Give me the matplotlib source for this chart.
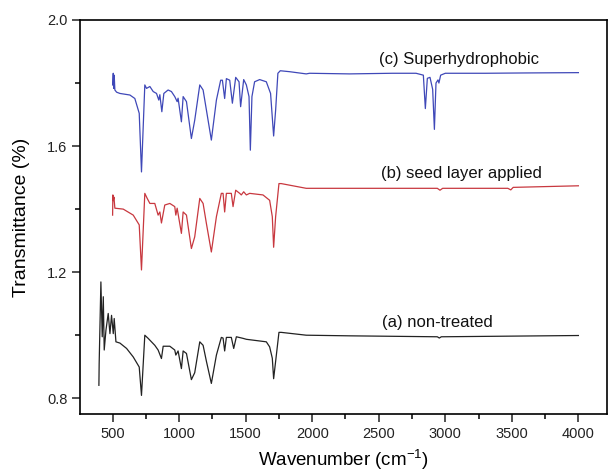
import matplotlib
matplotlib.use("Agg")
import matplotlib.pyplot as plt
from matplotlib.ticker import MultipleLocator

plt.rcParams['font.family'] = ['Liberation Sans', 'DejaVu Sans']
plt.rcParams['mathtext.default'] = 'regular'

# (c) Superhydrophobic
wn_c = [500, 505, 508, 512, 517, 530, 555, 630, 667, 700, 717, 742, 755, 780, 805, 830, 847, 855, 870, 885,
        917, 942, 967, 985, 992, 1017, 1030, 1055, 1092, 1117, 1155, 1180, 1205, 1242, 1280, 1312, 1325,
        1342, 1355, 1380, 1400, 1425, 1450, 1462, 1485, 1505, 1525, 1535, 1547, 1567, 1605, 1655, 1687,
        1710, 1725, 1742, 1760, 1830, 1955, 1980, 2280, 2600, 2780, 2835, 2850, 2865, 2885, 2905, 2918,
        2930, 2945, 2952, 2965, 3000, 3300, 3600, 4000]
t_c = [1.794, 1.831, 1.783, 1.825, 1.778, 1.771, 1.767, 1.762, 1.751, 1.704, 1.518, 1.794, 1.783, 1.789,
       1.773, 1.767, 1.746, 1.763, 1.709, 1.767, 1.778, 1.773, 1.757, 1.741, 1.752, 1.677, 1.757, 1.741,
       1.624, 1.682, 1.794, 1.778, 1.714, 1.619, 1.746, 1.809, 1.809, 1.751, 1.814, 1.809, 1.736, 1.818,
       1.804, 1.725, 1.811, 1.794, 1.757, 1.587, 1.757, 1.804, 1.811, 1.804, 1.767, 1.632, 1.714, 1.831,
       1.839, 1.836, 1.829, 1.831, 1.829, 1.831, 1.831, 1.825, 1.719, 1.815, 1.818, 1.780, 1.653, 1.800,
       1.810, 1.800, 1.825, 1.831, 1.831, 1.832, 1.833]

# (b) seed layer applied
wn_b = [500, 502, 505, 510, 517, 580, 655, 700, 717, 742, 760, 780, 817, 842, 855, 867, 892, 930, 967, 975,
        985, 1017, 1030, 1055, 1092, 1117, 1155, 1180, 1205, 1242, 1280, 1317, 1330, 1342, 1355, 1392,
        1405, 1425, 1455, 1467, 1485, 1505, 1530, 1630, 1680, 1700, 1710, 1725, 1750, 1767, 1955, 2500,
        2940, 2960, 2980, 3470, 3492, 3510, 4000]
t_b = [1.381, 1.445, 1.427, 1.438, 1.403, 1.400, 1.381, 1.350, 1.207, 1.450, 1.434, 1.418, 1.418, 1.381,
       1.391, 1.356, 1.413, 1.418, 1.408, 1.381, 1.403, 1.323, 1.391, 1.381, 1.275, 1.312, 1.434, 1.418,
       1.354, 1.264, 1.376, 1.450, 1.450, 1.391, 1.450, 1.450, 1.408, 1.460, 1.450, 1.445, 1.455, 1.445,
       1.450, 1.445, 1.428, 1.376, 1.279, 1.376, 1.481, 1.481, 1.466, 1.466, 1.466, 1.460, 1.466, 1.466,
       1.461, 1.469, 1.474]

# (a) non-treated
wn_a = [397, 399, 412, 422, 430, 437, 450, 467, 480, 492, 505, 512, 525, 555, 605, 655, 700, 717, 742, 767,
        817, 842, 867, 880, 930, 967, 975, 992, 1017, 1030, 1055, 1092, 1117, 1155, 1180, 1205, 1242, 1280,
        1317, 1330, 1342, 1355, 1392, 1410, 1430, 1480, 1505, 1655, 1680, 1700, 1710, 1725, 1750, 1767,
        1955, 2280, 2940, 2955, 2970, 4000]
t_a = [0.841, 0.910, 1.169, 0.995, 1.122, 0.953, 1.016, 1.069, 1.005, 1.063, 1.005, 1.053, 0.979, 0.975,
       0.958, 0.931, 0.899, 0.809, 1.000, 0.990, 0.968, 0.953, 0.926, 0.965, 0.965, 0.953, 0.937, 0.950,
       0.894, 0.950, 0.942, 0.859, 0.881, 0.979, 0.968, 0.917, 0.847, 0.937, 0.993, 0.991, 0.950, 0.993,
       0.993, 0.958, 0.995, 0.990, 0.987, 0.979, 0.963, 0.927, 0.862, 0.917, 1.009, 1.009, 1.000, 0.998,
       0.995, 0.991, 0.995, 0.999]

labels = ["(a) non-treated", "(b) seed layer applied", "(c) Superhydrophobic"]
label_x = [2527, 2517, 2505]
label_y = [1.039, 1.513, 1.876]

fig = plt.figure(figsize=(6.10, 4.75), dpi=100)
ax = fig.add_axes([80/610, 1-414/475, 527/610, 394/475])

ax.plot(wn_a, t_a, color='#222222', lw=0.9)
ax.plot(wn_b, t_b, color='#c8383f', lw=0.9)
ax.plot(wn_c, t_c, color='#3f48b8', lw=0.9)

for s, x, y in zip(labels, label_x, label_y):
    ax.text(x, y, s, fontsize=12, ha='left', va='center', color='#111111')

ax.set_xlim(255, 4215)
ax.set_ylim(0.75, 2.0)
ax.set_xticks([500, 1000, 1500, 2000, 2500, 3000, 3500, 4000])
ax.set_yticks([0.8, 1.2, 1.6, 2.0])
ax.xaxis.set_minor_locator(MultipleLocator(250))
ax.yaxis.set_minor_locator(MultipleLocator(0.2))
ax.yaxis.set_major_formatter(matplotlib.ticker.FormatStrFormatter('%.1f'))
ax.tick_params(which='major', direction='out', length=6, width=1.1, labelsize=10.5, pad=3,
               top=False, right=False, colors='#222222')
ax.tick_params(which='minor', direction='out', length=3.5, width=1.1, top=False, right=False)
for sp in ax.spines.values():
    sp.set_linewidth(1.2)

ax.set_xlabel("Wavenumber (cm$^{-1}$)", fontsize=13.5, labelpad=5)
ax.set_ylabel("Transmittance (%)", fontsize=14, labelpad=12)

fig.savefig("out.png", dpi=100)
